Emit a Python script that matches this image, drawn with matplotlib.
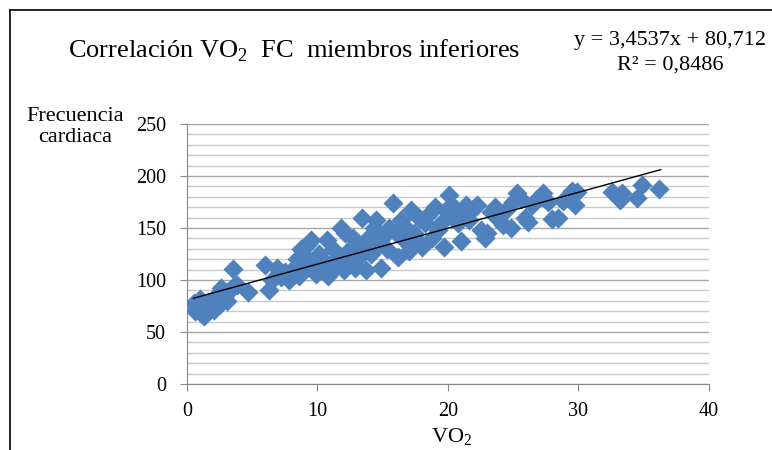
import matplotlib
matplotlib.use("Agg")
import matplotlib.pyplot as plt
from matplotlib.lines import Line2D
from matplotlib.ticker import MultipleLocator

# coding=utf-8

plt.rcParams["font.family"] = ["Liberation Serif", "DejaVu Serif"]

# VO2 / FC values
vo2 = [0.5, 0.6, 0.8, 1.0, 1.1, 1.2, 1.3, 1.5, 1.6, 1.8, 2.0, 2.1, 2.3, 2.5, 2.6, 2.8, 3.0, 3.1, 3.3, 3.5, 3.5, 3.8, 4.7,
       6.0, 6.3, 6.5, 6.9, 7.2, 7.5, 7.8, 8.0, 8.2, 8.4, 8.6, 8.7, 8.9, 9.1, 9.3, 9.5, 9.7, 9.9,
       10.1, 10.3, 10.5, 10.7, 10.8, 11.0, 11.2, 11.4, 11.6, 11.8, 12.0, 12.1, 12.3, 12.5, 12.7, 12.9, 13.0, 13.2, 13.4,
       13.5, 13.7, 13.9, 14.1, 14.3, 14.5, 14.7, 14.9,
       15.1, 15.3, 15.5, 15.8, 16.0, 16.2, 16.4, 16.6, 16.8, 17.0, 17.2, 17.4, 17.6, 17.8, 18.0, 18.2, 18.5, 18.8, 19.0,
       19.2, 19.5, 19.7, 19.9,
       20.1, 20.2, 20.4, 20.6, 20.8, 21.0, 21.2, 21.4, 21.6, 21.9, 22.2, 22.5, 22.8, 23.0, 23.3, 23.6, 23.9, 24.2, 24.5, 24.8,
       25.0, 25.3, 25.6, 25.9, 26.1, 26.4, 26.8, 27.1, 27.3, 27.7, 28.0, 28.4, 28.8, 29.1, 29.5, 29.7, 29.9,
       32.6, 33.2, 33.3, 34.5, 34.9, 36.2]
fc = [78, 70, 74, 82, 68, 76, 65, 72, 79, 74, 80, 71, 86, 77, 92, 84, 88, 80, 90, 111, 93, 95, 88,
      114, 90, 100, 112, 103, 108, 100, 104, 112, 120, 104, 130, 110, 122, 135, 138, 116, 106,
      125, 112, 118, 138, 104, 108, 130, 115, 122, 150, 110, 145, 128, 118, 140, 112, 135, 122, 160,
      128, 110, 140, 125, 150, 158, 135, 112,
      142, 130, 150, 174, 145, 122, 158, 138, 150, 128, 167, 145, 138, 160, 132, 155, 162, 140, 170,
      148, 155, 132, 165,
      182, 172, 160, 168, 155, 137, 165, 172, 158, 168, 172, 148, 140, 145, 165, 170, 158, 153, 168, 150,
      175, 184, 178, 160, 156, 172, 178, 180, 184, 175, 159, 160, 176, 180, 186, 172, 185,
      185, 177, 184, 179, 191, 187]

# linear trend given on the chart
slope = 3.4537
intercept = 80.712
trend_x = [0.5, 36.3]

fig = plt.figure(figsize=(7.72, 4.5), dpi=100)
ax = fig.add_axes([0.2422, 0.1467, 0.6762, 0.5778])

ax.scatter(vo2, fc, marker="D", s=105, color="#4F81BD", linewidths=0, zorder=3)
ax.plot(trend_x, [slope * x + intercept for x in trend_x], color="black", lw=1, zorder=4)

ax.set_xlim(0, 40)
ax.set_ylim(0, 250)
ax.xaxis.set_major_locator(MultipleLocator(10))
ax.yaxis.set_major_locator(MultipleLocator(50))
ax.yaxis.set_minor_locator(MultipleLocator(10))
ax.grid(True, which="major", axis="y", color="#a6a6a6", lw=1)
ax.grid(True, which="minor", axis="y", color="#c8c8c8", lw=1)
ax.tick_params(which="minor", length=0)
ax.tick_params(which="major", length=5, color="#888888", labelsize=14.5, direction="out")
ax.tick_params(axis="y", pad=10)
ax.tick_params(axis="x", pad=8)
for s in ["top", "right"]:
    ax.spines[s].set_visible(False)
for s in ["left", "bottom"]:
    ax.spines[s].set_color("#888888")
ax.set_axisbelow(True)

fig.text(0.088, 0.873, r"Correlación VO$_\mathregular{2}$  FC  miembros inferiores", fontsize=19, va="baseline")
fig.text(0.868, 0.9, "y = 3,4537x + 80,712", fontsize=16, ha="center", va="baseline")
fig.text(0.868, 0.845, "R² = 0,8486", fontsize=16, ha="center", va="baseline")
fig.text(0.097, 0.717, "Frecuencia\ncardiaca", fontsize=16, ha="center", va="center", linespacing=1.15)
fig.text(0.585, 0.018, r"VO$_\mathregular{2}$", fontsize=16, ha="center", va="baseline")

# outer frame (top and left edges)
fig.add_artist(Line2D([0.013, 0.013], [0, 0.978], color="black", lw=1.2, transform=fig.transFigure))
fig.add_artist(Line2D([0.013, 1], [0.978, 0.978], color="black", lw=1.2, transform=fig.transFigure))

plt.savefig("out.png", dpi=100)
